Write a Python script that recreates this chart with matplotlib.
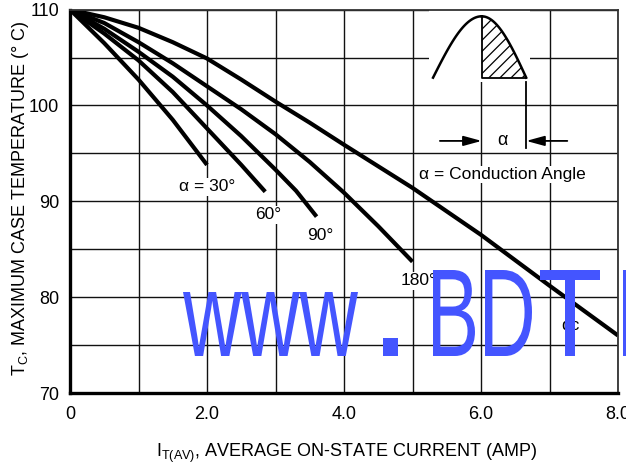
import numpy as np
import matplotlib
matplotlib.use("Agg")
import matplotlib.pyplot as plt
from matplotlib.patches import PathPatch, Rectangle
from matplotlib.textpath import TextPath
from matplotlib.font_manager import FontProperties
from matplotlib.transforms import Affine2D

plt.rcParams['font.family'] = ['Liberation Sans Narrow', 'Liberation Sans', 'DejaVu Sans']
plt.rcParams['hatch.linewidth'] = 0.9
plt.rcParams['hatch.color'] = 'black'

# curves (I_T(AV) in A, T_C in deg C)
i_30 = [0, 0.5, 1.0, 1.5, 2.0]
tc_30 = [110, 106.5, 102.7, 98.5, 93.8]
i_60 = [0, 0.5, 1.0, 1.5, 2.0, 2.5, 2.85]
tc_60 = [110, 107.5, 104.7, 101.4, 97.6, 93.8, 91.0]
i_90 = [0, 0.5, 1.0, 1.5, 2.0, 2.5, 3.0, 3.3, 3.6]
tc_90 = [110, 108.0, 105.6, 103.0, 100.0, 96.8, 93.3, 91.1, 88.4]
i_180 = [0, 0.5, 1.0, 1.5, 2.0, 2.5, 3.0, 3.5, 4.0, 4.5, 5.0]
tc_180 = [110, 108.6, 106.6, 104.4, 102.0, 99.6, 97.0, 94.1, 90.9, 87.4, 83.7]
i_dc = [0, 0.5, 1.0, 1.5, 2.0, 2.5, 3.0, 3.5, 4.0, 5.0, 6.0, 7.0, 8.0]
tc_dc = [110, 109.2, 108.1, 106.6, 104.9, 102.7, 100.4, 98.2, 95.9, 91.4, 86.5, 81.2, 76.0]

x_ticks = [0, 2, 4, 6, 8]
x_labels = ["0", "2.0", "4.0", "6.0", "8.0"]
y_ticks = [70, 80, 90, 100, 110]

fig = plt.figure(figsize=(6.26, 4.69), dpi=100)
ax = fig.add_axes([70/626, 76/469, 548/626, 383.4/469])
ax.set_xlim(0, 8)
ax.set_ylim(70, 110)
ax.set_axisbelow(True)

ax.set_xticks(x_ticks)
ax.set_xticklabels(x_labels)
ax.set_xticks([1, 3, 5, 7], minor=True)
ax.set_yticks(y_ticks)
ax.set_yticks([75, 85, 95, 105], minor=True)
ax.tick_params(which='both', length=0, labelsize=13)
ax.tick_params(axis='x', pad=9)
ax.tick_params(axis='y', pad=8)
ax.grid(which='both', color='#111111', linewidth=1.0)

for s in ['left', 'bottom']:
    ax.spines[s].set_linewidth(2.4)
for s in ['top', 'right']:
    ax.spines[s].set_linewidth(1.3)
    ax.spines[s].set_color('#333333')

for xs, ys in [(i_30, tc_30), (i_60, tc_60), (i_90, tc_90), (i_180, tc_180), (i_dc, tc_dc)]:
    ax.plot(xs, ys, color='black', linewidth=3.0, solid_capstyle='butt', zorder=2)

lbl = dict(fontsize=12.5, bbox=dict(facecolor='white', edgecolor='none', pad=1), zorder=3)
ax.text(2.0, 91.5, "α = 30°", ha='center', va='center', **lbl)
ax.text(2.9, 88.6, "60°", ha='center', va='center', **lbl)
ax.text(3.66, 86.4, "90°", ha='center', va='center', **lbl)
ax.text(4.82, 81.7, "180°", ha='left', va='center', **lbl)
ax.text(7.31, 77.0, "dc", ha='center', va='center', **lbl)
ax.text(6.31, 92.8, "α = Conduction Angle", ha='center', va='center', **lbl)

# conduction angle sketch
px, lx, rx, base, top = 6.01, 5.30, 6.66, 102.9, 109.3
ax.add_patch(Rectangle((5.24, 102.4), 1.48, 7.6, facecolor='white', edgecolor='none', zorder=1.5))
t = np.linspace(0, np.pi/2, 60)
ax.plot(lx + (px - lx)*t/(np.pi/2), base + (top - base)*np.sin(t), color='black', lw=1.8, zorder=2)
xr = px + (rx - px)*t/(np.pi/2)
yr = base + (top - base)*np.cos(t)
ax.plot(xr, yr, color='black', lw=1.8, zorder=2)
ax.fill_between(xr, base, yr, facecolor='white', edgecolor='black', hatch='///', linewidth=0, zorder=1.8)
ax.plot([px, px, rx], [top, base, base], color='black', lw=1.3, zorder=2)
ax.plot([rx, rx], [102.4, 95.6], color='black', lw=1.3, zorder=2)
arr = dict(arrowstyle='-|>,head_length=1.1,head_width=0.3', color='black', lw=1.3, mutation_scale=10, shrinkA=0, shrinkB=0)
ax.annotate("", xy=(px, 96.3), xytext=(5.40, 96.3), arrowprops=arr, zorder=2)
ax.annotate("", xy=(rx, 96.3), xytext=(7.26, 96.3), arrowprops=arr, zorder=2)
ax.text(6.31, 96.3, "α", ha='center', va='center', fontsize=13)

fig.text(21/626, 1 - 198/469, "$\\mathregular{T_C}$, MAXIMUM CASE TEMPERATURE (° C)",
         rotation=90, ha='center', va='center', fontsize=13)
fig.text(347/626, 1 - 453/469, "$\\mathregular{I_{T(AV)}}$, AVERAGE ON-STATE CURRENT (AMP)",
         ha='center', va='center', fontsize=13)

# watermark
fp = FontProperties(family='Liberation Sans')
pieces = [("www", 183, 358, 292, 356), (".", 383, 398, 338, 356), ("B", 433, 475, 270, 356),
          ("D", 485, 532, 270, 356), ("T", 540, 600, 270, 356), ("I", 623, 640, 270, 356)]
for s, x0, x1, y0, y1 in pieces:
    p = TextPath((0, 0), s, size=100, prop=fp)
    e = p.get_extents()
    tr = Affine2D().translate(-e.x0, -e.y0).scale((x1 - x0)/e.width, (y1 - y0)/e.height).translate(x0, 469 - y1)
    fig.add_artist(PathPatch(p, transform=tr, facecolor='#4455ff', edgecolor='none', zorder=10))

fig.savefig("out.png", dpi=100)
